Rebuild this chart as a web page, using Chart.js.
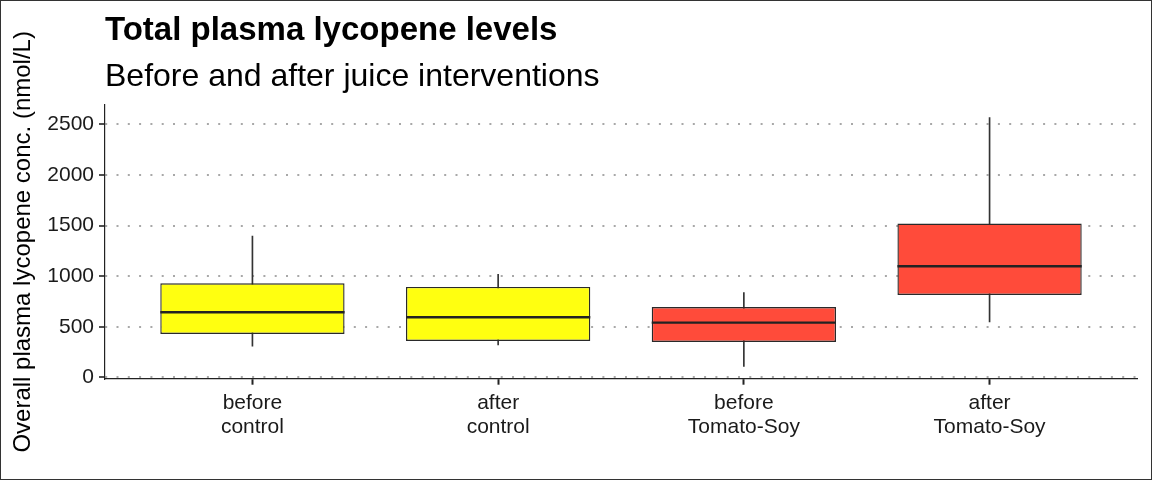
<!DOCTYPE html>
<html>
<head>
<meta charset="utf-8">
<script src="https://cdn.jsdelivr.net/npm/chart.js@4/dist/chart.umd.min.js"></script>
<style>
  html, body { margin: 0; padding: 0; background: #fff; }
  #wrap { width: 1152px; height: 480px; box-sizing: border-box; border: 1px solid #333; position: relative; }
  canvas { display: block; }
</style>
</head>
<body>
<div id="wrap"><canvas id="c"></canvas></div>
<script>
// ---- data ----
const categories = [["before", "control"], ["after", "control"], ["before", "Tomato-Soy"], ["after", "Tomato-Soy"]];
const whiskerLow  = [309, 322, 110, 548];
const boxQ1       = [430, 361, 351, 815];
const boxMedian   = [644, 595, 542, 1098];
const boxQ3       = [930, 894, 696, 1519];
const whiskerHigh = [1396, 1019, 838, 2565];
const boxColors   = ["#FFFF10", "#FFFF10", "#FF4B3A", "#FF4B3A"];
const yTicks      = [0, 500, 1000, 1500, 2000, 2500];

const xs = categories.map((c, i) => i + 1);
const FONT = 'Liberation Sans, Arial, Helvetica, sans-serif';

const medianPlugin = {
  id: 'medianLines',
  afterDatasetsDraw(chart) {
    const meta = chart.getDatasetMeta(1);
    const y = chart.scales.y;
    const ctx = chart.ctx;
    ctx.save();
    ctx.strokeStyle = '#222';
    ctx.lineWidth = 2.4;
    meta.data.forEach((bar, i) => {
      const half = bar.width / 2;
      const py = y.getPixelForValue(boxMedian[i]);
      ctx.beginPath();
      ctx.moveTo(bar.x - half, py);
      ctx.lineTo(bar.x + half, py);
      ctx.stroke();
    });
    ctx.restore();
  }
};

new Chart(document.getElementById('c'), {
  type: 'bar',
  data: {
    datasets: [
      {
        label: 'whiskers',
        data: xs.map((x, i) => ({ x: x, y: [whiskerLow[i], whiskerHigh[i]] })),
        backgroundColor: '#333',
        barThickness: 1,
        grouped: false,
        order: 2
      },
      {
        label: 'box',
        data: xs.map((x, i) => ({ x: x, y: [boxQ1[i], boxQ3[i]] })),
        backgroundColor: boxColors,
        borderColor: '#2a2a2a',
        borderWidth: 1.4,
        borderSkipped: false,
        barPercentage: 0.75,
        categoryPercentage: 1,
        grouped: false,
        order: 1
      }
    ]
  },
  options: {
    responsive: true,
    maintainAspectRatio: false,
    animation: false,
    events: [],
    layout: { padding: { top: 6, right: 14, left: 0, bottom: 0 } },
    plugins: {
      legend: { display: false },
      tooltip: { enabled: false },
      title: {
        display: true,
        text: 'Total plasma lycopene levels',
        align: 'start',
        fullSize: false,
        color: '#000',
        font: { family: FONT, size: 33, weight: 'bold', lineHeight: 1.2 },
        padding: { top: 4.2, bottom: 3 }
      },
      subtitle: {
        display: true,
        text: 'Before and after juice interventions',
        align: 'start',
        fullSize: false,
        color: '#000',
        font: { family: FONT, size: 32, lineHeight: 1.2 },
        padding: { top: 4, bottom: 8.8 }
      }
    },
    scales: {
      x: {
        type: 'linear',
        min: 0.4,
        max: 4.6,
        offset: false,
        afterBuildTicks(scale) { scale.ticks = xs.map(v => ({ value: v })); },
        afterFit(scale) { scale.height = 100.3; },
        ticks: {
          color: '#1a1a1a',
          font: { family: FONT, size: 21, lineHeight: 1.15 },
          padding: 6,
          maxRotation: 0,
          autoSkip: false,
          callback: (v) => categories[v - 1]
        },
        grid: {
          offset: false,
          drawOnChartArea: false,
          drawTicks: true,
          tickLength: 6,
          tickColor: '#222',
          tickWidth: 2
        },
        border: { display: true, color: '#222', width: 1.2 }
      },
      y: {
        min: -12,
        max: 2690,
        afterBuildTicks(scale) { scale.ticks = yTicks.map(v => ({ value: v })); },
        afterFit(scale) { scale.width = 104; },
        ticks: {
          color: '#1a1a1a',
          font: { family: FONT, size: 21 },
          padding: 5,
          callback: (v) => String(v)
        },
        title: {
          display: true,
          text: 'Overall plasma lycopene conc. (nmol/L)',
          color: '#000',
          font: { family: FONT, size: 24, lineHeight: 1.2 },
          padding: { top: 8, bottom: 0 }
        },
        grid: {
          color: '#a8a8a8',
          lineWidth: 2,
          drawTicks: true,
          tickLength: 6,
          tickColor: '#222',
          tickWidth: 1.6,
          tickBorderDash: []
        },
        border: { display: true, color: '#222', width: 1.2, dash: [2, 9.3] }
      }
    }
  },
  plugins: [medianPlugin]
});
</script>
</body>
</html>
